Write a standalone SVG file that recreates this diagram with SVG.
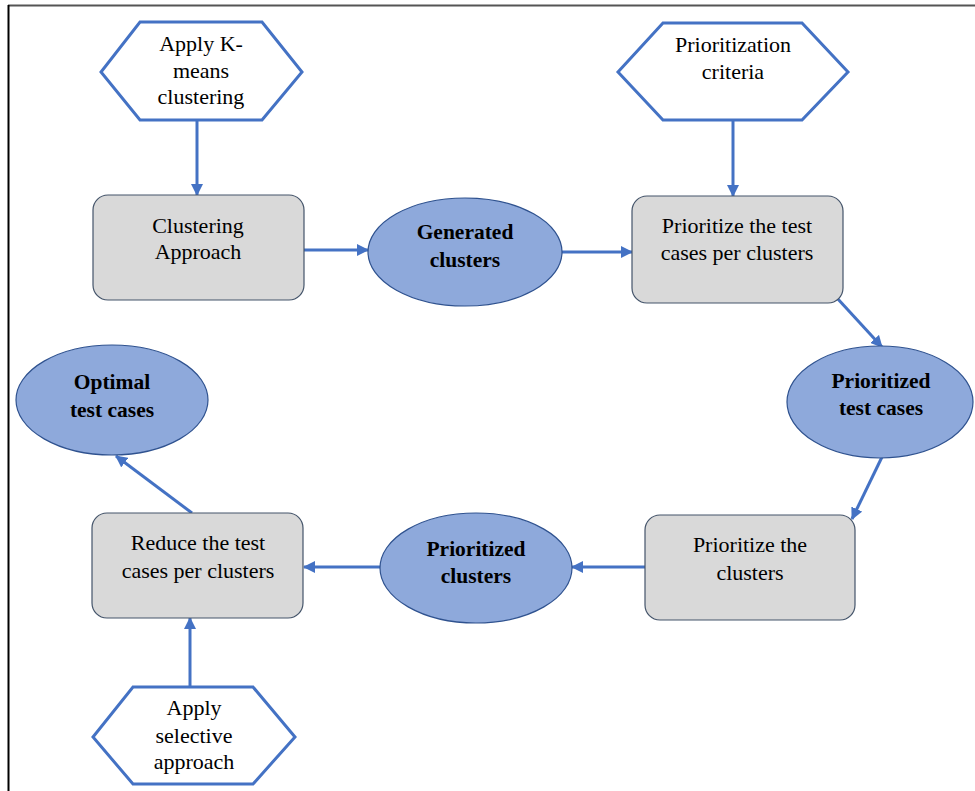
<svg xmlns="http://www.w3.org/2000/svg" width="975" height="791" viewBox="0 0 975 791">
<defs>
<marker id="ah" viewBox="0 0 12 12" refX="11" refY="6" markerWidth="12" markerHeight="12" markerUnits="userSpaceOnUse" orient="auto">
<path d="M0,0 L12,6 L0,12 Z" fill="#4472C4"/>
</marker>
<style>
.hex{fill:#fff;stroke:#4472C4;stroke-width:3;stroke-linejoin:miter}
.box{fill:#D9D9D9;stroke:#44546A;stroke-width:1.2}
.ell{fill:#8EA9DB;stroke:#2F528F;stroke-width:1.2}
.t{font-family:'Liberation Serif','Times New Roman',Times,serif;font-size:22px;fill:#000;text-anchor:middle}
.b{font-weight:bold;font-size:21.5px}
.c{fill:none;stroke:#4472C4;stroke-width:3;marker-end:url(#ah)}
</style>
</defs>
<rect width="975" height="791" fill="#fff"/>
<line x1="8" y1="5.5" x2="975" y2="5.5" stroke="#555" stroke-width="2"/>
<line x1="8.5" y1="5" x2="8.5" y2="791" stroke="#000" stroke-width="2"/>

<g id="connectors">
<line class="c" x1="197" y1="120" x2="197" y2="195"/>
<line class="c" x1="304" y1="250" x2="368" y2="250"/>
<line class="c" x1="562" y1="252" x2="632" y2="252"/>
<line class="c" x1="733" y1="120" x2="733" y2="196"/>
<line class="c" x1="837" y1="298" x2="882" y2="347"/>
<line class="c" x1="882" y1="457" x2="852" y2="519"/>
<line class="c" x1="645" y1="567" x2="572" y2="567"/>
<line class="c" x1="380" y1="567" x2="304" y2="567"/>
<line class="c" x1="192" y1="513" x2="116" y2="456"/>
<line class="c" x1="190" y1="687" x2="190" y2="618"/>
</g>

<g id="hex-kmeans">
<polygon class="hex" points="140,22 262,22 302,72 262,120 140,120 101,72"/>
<text class="t" x="201" y="51">Apply K-</text>
<text class="t" x="201" y="78">means</text>
<text class="t" x="201" y="104">clustering</text>
</g>

<g id="hex-criteria">
<polygon class="hex" points="663,23 802,23 848,72 802,120 663,120 618,72"/>
<text class="t" x="733" y="52">Prioritization</text>
<text class="t" x="733" y="79">criteria</text>
</g>

<g id="box-clustering">
<rect class="box" x="93" y="195" width="211" height="105" rx="15"/>
<text class="t" x="198" y="233">Clustering</text>
<text class="t" x="198" y="259">Approach</text>
</g>

<g id="ell-generated">
<ellipse class="ell" cx="465" cy="252" rx="97" ry="54"/>
<text class="t b" x="465" y="239">Generated</text>
<text class="t b" x="465" y="267">clusters</text>
</g>

<g id="box-prioritize-tests">
<rect class="box" x="632" y="196" width="211" height="107" rx="15"/>
<text class="t" x="737" y="233">Prioritize the test</text>
<text class="t" x="737" y="260">cases per clusters</text>
</g>

<g id="ell-prioritized-tests">
<ellipse class="ell" cx="880" cy="402" rx="93" ry="56"/>
<text class="t b" x="881" y="388">Prioritized</text>
<text class="t b" x="881" y="415">test cases</text>
</g>

<g id="box-prioritize-clusters">
<rect class="box" x="645" y="515" width="210" height="105" rx="15"/>
<text class="t" x="750" y="552">Prioritize the</text>
<text class="t" x="750" y="580">clusters</text>
</g>

<g id="ell-prioritized-clusters">
<ellipse class="ell" cx="476" cy="568" rx="96" ry="55"/>
<text class="t b" x="476" y="556">Prioritized</text>
<text class="t b" x="476" y="583">clusters</text>
</g>

<g id="box-reduce">
<rect class="box" x="92" y="513" width="211" height="105" rx="15"/>
<text class="t" x="198" y="550">Reduce the test</text>
<text class="t" x="198" y="578">cases per clusters</text>
</g>

<g id="ell-optimal">
<ellipse class="ell" cx="112" cy="400" rx="96" ry="55"/>
<text class="t b" x="112" y="389">Optimal</text>
<text class="t b" x="112" y="417">test cases</text>
</g>

<g id="hex-selective">
<polygon class="hex" points="133,687 253,687 295,737 253,784 133,784 93,737"/>
<text class="t" x="194" y="715">Apply</text>
<text class="t" x="194" y="743">selective</text>
<text class="t" x="194" y="769">approach</text>
</g>
</svg>
